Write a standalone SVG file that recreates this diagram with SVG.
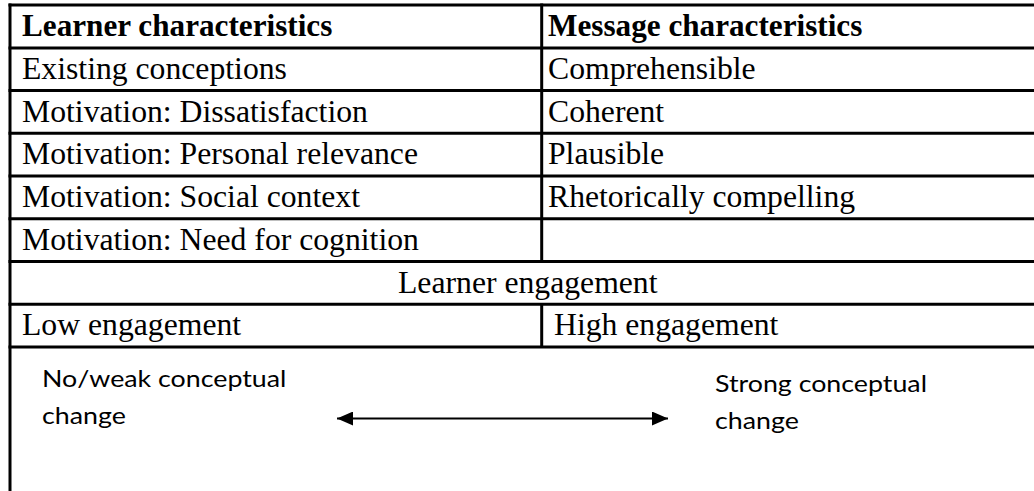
<svg xmlns="http://www.w3.org/2000/svg" width="1034" height="491" viewBox="0 0 1034 491">
<style>
.rule{stroke:#000;stroke-width:3;fill:none}
.t{font-family:"Liberation Serif","Times New Roman",serif;font-size:31.7px;fill:#000}
.b{font-weight:bold;font-size:31.2px}
.s{font-family:Lato,"Noto Sans",sans-serif;font-size:23.5px;fill:#000}
.conn{stroke:#000;stroke-width:2;fill:none}
</style>
<defs>
<marker id="ah" markerUnits="userSpaceOnUse" markerWidth="16" markerHeight="14" refX="16" refY="7" orient="auto-start-reverse">
<path d="M0,0 L16,7 L0,14 z" fill="#000"/>
</marker>
</defs>
<rect width="1034" height="491" fill="#fff"/>
<g id="grid">
<line class="rule" x1="8.5" y1="5" x2="1034" y2="5"/>
<line class="rule" x1="8.5" y1="48" x2="1034" y2="48"/>
<line class="rule" x1="8.5" y1="90.5" x2="1034" y2="90.5"/>
<line class="rule" x1="8.5" y1="133.25" x2="1034" y2="133.25"/>
<line class="rule" x1="8.5" y1="176" x2="1034" y2="176"/>
<line class="rule" x1="8.5" y1="218.75" x2="1034" y2="218.75"/>
<line class="rule" x1="8.5" y1="261.5" x2="1034" y2="261.5"/>
<line class="rule" x1="8.5" y1="304.25" x2="1034" y2="304.25"/>
<line class="rule" x1="8.5" y1="347" x2="1034" y2="347"/>
<line class="rule" x1="10" y1="3.5" x2="10" y2="491"/>
<line class="rule" x1="541.7" y1="3.5" x2="541.7" y2="261.5"/>
<line class="rule" x1="541.7" y1="304.25" x2="541.7" y2="347"/>
</g>
<g id="learner-header"><text class="t b" x="22" y="36">Learner characteristics</text></g>
<g id="message-header"><text class="t b" x="548" y="36">Message characteristics</text></g>
<g id="existing-conceptions"><text class="t" x="22" y="79">Existing conceptions</text></g>
<g id="comprehensible"><text class="t" x="548" y="79">Comprehensible</text></g>
<g id="dissatisfaction"><text class="t" x="22" y="121.5">Motivation: Dissatisfaction</text></g>
<g id="coherent"><text class="t" x="548" y="121.5">Coherent</text></g>
<g id="personal-relevance"><text class="t" x="22" y="164">Motivation: Personal relevance</text></g>
<g id="plausible"><text class="t" x="548" y="164">Plausible</text></g>
<g id="social-context"><text class="t" x="22" y="207">Motivation: Social context</text></g>
<g id="rhetorically-compelling"><text class="t" x="548" y="207">Rhetorically compelling</text></g>
<g id="need-for-cognition"><text class="t" x="22" y="250">Motivation: Need for cognition</text></g>
<g id="learner-engagement"><text class="t" x="398" y="292.7">Learner engagement</text></g>
<g id="low-engagement"><text class="t" x="22" y="335">Low engagement</text></g>
<g id="high-engagement"><text class="t" x="554" y="335">High engagement</text></g>
<g id="weak-change"><text class="s" transform="translate(42,386.7) scale(1.14,1)"><tspan x="0" y="0">No/weak conceptual</tspan><tspan x="0" y="37">change</tspan></text></g>
<g id="strong-change"><text class="s" transform="translate(715,391.7) scale(1.14,1)"><tspan x="0" y="0">Strong conceptual</tspan><tspan x="0" y="37">change</tspan></text></g>
<g id="connectors">
<line class="conn" x1="337" y1="418.5" x2="668" y2="418.5" marker-start="url(#ah)" marker-end="url(#ah)"/>
</g>
</svg>
